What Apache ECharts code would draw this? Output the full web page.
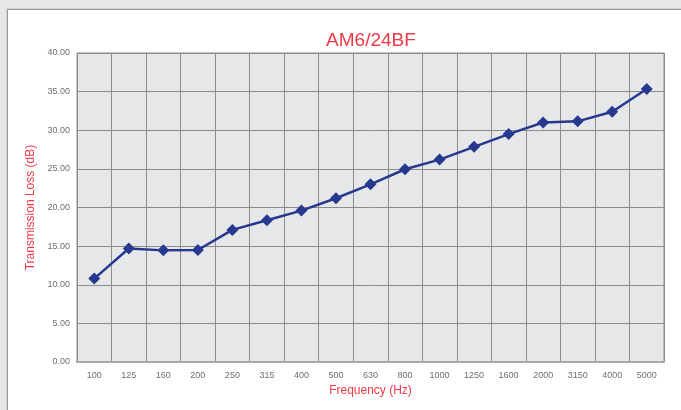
<!DOCTYPE html>
<html>
<head>
<meta charset="utf-8">
<script src="https://cdn.jsdelivr.net/npm/echarts@6/dist/echarts.min.js"></script>
<style>
  html, body { margin: 0; padding: 0; background: #e6e7e9; overflow: hidden; }
  #frame { position: absolute; left: 7px; top: 9px; width: 720px; height: 440px;
           background: #fff; border: 1px solid #9a9a9a; box-shadow: 0 0 0 1px #d0d0d0; }
  #chart { position: absolute; left: 0; top: 0; width: 681px; height: 410px; }
</style>
</head>
<body>
<div id="frame"></div>
<div id="chart"></div>
<script>
(function() {
  var frequencies = ['100', '125', '160', '200', '250', '315', '400', '500', '630', '800', '1000', '1250', '1600', '2000', '3150', '4000', '5000'];
  var lossValues = [10.8, 14.7, 14.45, 14.5, 17.1, 18.35, 19.6, 21.2, 23.0, 24.95, 26.2, 27.85, 29.5, 31.0, 31.15, 32.4, 35.35];

  var red = '#ee3a48';
  var labelGray = '#6e6e6e';
  var gridGray = '#8c8c8c';
  var blue = '#26398f';
  var font = 'Liberation Sans, Arial, sans-serif';

  var chart = echarts.init(document.getElementById('chart'), null, { renderer: 'canvas' });

  chart.setOption({
    animation: false,
    title: {
      text: 'AM6/24BF',
      left: 366,
      top: 26,
      textAlign: 'center',
      textStyle: { color: red, fontSize: 19, fontWeight: 'lighter', fontFamily: font }
    },
    grid: {
      left: 77,
      right: 17,
      top: 53,
      bottom: 48,
      show: true,
      backgroundColor: '#e6e7e9',
      borderColor: gridGray,
      borderWidth: 1
    },
    xAxis: {
      type: 'category',
      data: frequencies,
      boundaryGap: true,
      name: 'Frequency (Hz)',
      nameLocation: 'middle',
      nameGap: 23,
      nameTextStyle: { color: red, fontSize: 12, fontFamily: font },
      axisLabel: { color: labelGray, fontSize: 9, margin: 9, interval: 0, fontFamily: font },
      axisLine: { lineStyle: { color: '#a8a8a8', width: 2 } },
      axisTick: { show: false },
      splitLine: { show: true, interval: 0, lineStyle: { color: gridGray, width: 1 } }
    },
    yAxis: {
      type: 'value',
      min: 0,
      max: 40,
      interval: 5,
      name: 'Transmission Loss (dB)',
      nameLocation: 'middle',
      nameGap: 37,
      nameTextStyle: { color: red, fontSize: 12, fontFamily: font },
      axisLabel: {
        color: labelGray,
        fontSize: 9,
        margin: 7,
        fontFamily: font,
        formatter: function(v) { return v.toFixed(2); }
      },
      axisLine: { show: false },
      axisTick: { show: false },
      splitLine: { lineStyle: { color: gridGray, width: 1 } }
    },
    series: [{
      type: 'line',
      data: lossValues,
      symbol: 'diamond',
      symbolSize: 12,
      lineStyle: { color: blue, width: 2.5 },
      itemStyle: { color: blue }
    }]
  });

  window.addEventListener('resize', function() { chart.resize(); });
})();
</script>
</body>
</html>
